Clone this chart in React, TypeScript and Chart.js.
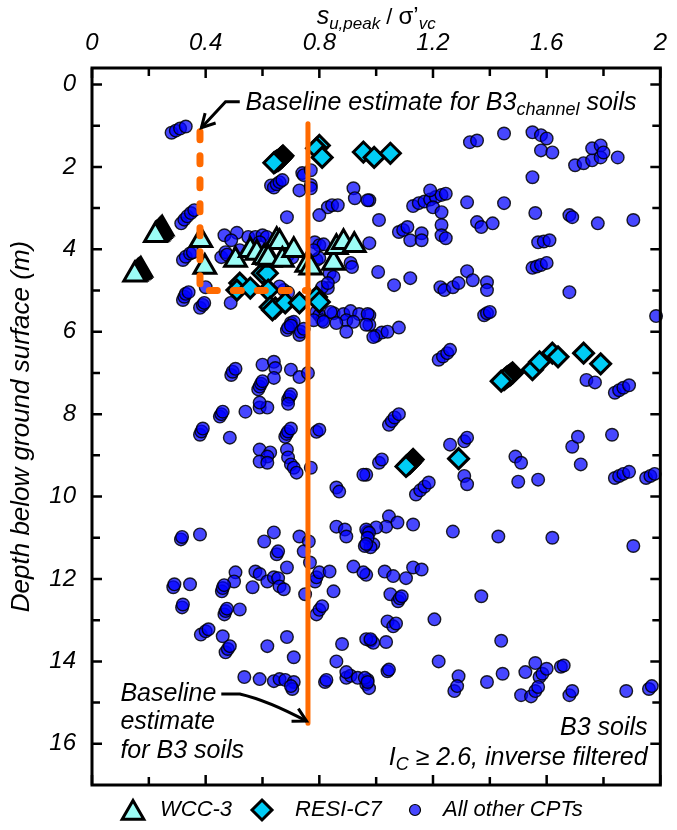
import React, { useEffect, useRef } from 'react';
import { Chart, registerables } from 'chart.js';
Chart.register(...registerables);

const FONT = '"Liberation Sans", Arial, Helvetica, sans-serif';

const xRange = [0, 2];
const yRange = [-0.4, 17];
const xTickValues = [0, 0.4, 0.8, 1.2, 1.6, 2];
const xMinorTickValues = [0.2, 0.6, 1.0, 1.4, 1.8];
const yTickValues = [0, 2, 4, 6, 8, 10, 12, 14, 16];
const yMinorTickValues = [1, 3, 5, 7, 9, 11, 13, 15];

const legendLabels = ['WCC-3', 'RESI-C7', 'All other CPTs'];

// [s_u,peak / sigma'_vc, depth (m)]
const wcc3: [number, number][] = [
  [0.247, 3.5], [0.243, 3.53], [0.239, 3.56], [0.235, 3.59], [0.231, 3.62], [0.227, 3.64], [0.223, 3.66],
  [0.172, 4.5], [0.168, 4.53], [0.164, 4.55], [0.16, 4.57], [0.155, 4.6], [0.15, 4.62],
  [0.383, 3.78], [0.397, 4.43], [0.505, 4.26], [0.557, 4.02], [0.58, 4.09],
  [0.606, 4.19], [0.627, 4.26], [0.65, 3.78], [0.66, 3.83], [0.62, 4.21],
  [0.67, 4.26], [0.71, 4.02], [0.756, 4.38], [0.77, 4.45], [0.85, 4.33],
  [0.86, 3.95], [0.885, 3.83], [0.923, 3.9],
];

const resiC7: [number, number][] = [
  [0.672, 1.73], [0.668, 1.76], [0.664, 1.79], [0.66, 1.82], [0.655, 1.84], [0.65, 1.86],
  [0.645, 1.88], [0.64, 1.9],
  [0.80, 1.48], [0.79, 1.55], [0.81, 1.77],
  [0.955, 1.64], [0.993, 1.77], [1.05, 1.67],
  [0.52, 4.82], [0.51, 4.99], [0.557, 4.94], [0.60, 4.58], [0.617, 4.58],
  [0.62, 4.99], [0.627, 5.4], [0.645, 5.42], [0.635, 5.47], [0.68, 5.3],
  [0.73, 5.3], [0.79, 5.16], [0.80, 5.28],
  [1.48, 7.0], [1.475, 7.03], [1.47, 7.06], [1.465, 7.08], [1.46, 7.1], [1.455, 7.13],
  [1.45, 7.16], [1.44, 7.2], [1.55, 6.92], [1.575, 6.73],
  [1.62, 6.52], [1.64, 6.61], [1.73, 6.52], [1.79, 6.78],
  [1.13, 9.1], [1.125, 9.14], [1.12, 9.18], [1.115, 9.21], [1.11, 9.24], [1.105, 9.27], [1.29, 9.08],
];

const otherCpts: [number, number][] = [
  [0.28, 1.17], [0.295, 1.12], [0.31, 1.07], [0.33, 1.02],
  [1.33, 1.40], [1.355, 1.36], [1.45, 1.19], [1.55, 1.16], [1.58, 1.23], [1.60, 1.31],
  [1.58, 1.60], [1.62, 1.65], [1.55, 2.25],
  [1.70, 1.96], [1.73, 1.91], [1.76, 1.84], [1.76, 1.55], [1.79, 1.48], [1.79, 1.77],
  [1.80, 1.65], [1.85, 1.77],
  [0.976, 2.81], [1.13, 2.95], [1.15, 2.88], [1.17, 2.84], [1.19, 2.79], [1.21, 2.73],
  [1.23, 2.68], [1.245, 2.65], [1.19, 2.57], [1.20, 2.98], [1.23, 3.1], [1.23, 3.41],
  [1.23, 3.66], [1.245, 3.73],
  [1.01, 3.29], [1.08, 3.58], [1.095, 3.53], [1.11, 3.46], [1.12, 3.78], [1.16, 3.61],
  [1.16, 3.78], [0.976, 3.85],
  [1.32, 2.86], [1.355, 3.34], [1.37, 3.46], [1.41, 3.37], [1.45, 2.88], [1.56, 3.12],
  [1.68, 3.17], [1.69, 3.22], [1.78, 3.37], [1.905, 3.29],
  [1.57, 3.83], [1.59, 3.81], [1.61, 3.78],
  [1.55, 4.45], [1.565, 4.42], [1.58, 4.38], [1.60, 4.33],
  [1.007, 4.55], [1.063, 4.87], [1.12, 4.7], [1.226, 4.92], [1.24, 4.99], [1.27, 4.92],
  [1.29, 4.82], [1.32, 4.53], [1.34, 4.75], [1.39, 4.8], [1.39, 4.99], [1.68, 5.04],
  [1.38, 5.6], [1.39, 5.55], [1.40, 5.52], [1.985, 5.62],
  [0.976, 5.6], [0.976, 5.83], [1.0, 6.1], [1.02, 6.02], [1.04, 6.0], [1.08, 5.9],
  [1.22, 6.68], [1.235, 6.6], [1.25, 6.52], [1.26, 6.44],
  [1.74, 7.17], [1.77, 7.23], [1.84, 7.48], [1.855, 7.42], [1.87, 7.36], [1.89, 7.3],
  [1.045, 8.26], [1.055, 8.17], [1.065, 8.08], [1.08, 8.0],
  [1.01, 9.18], [1.02, 9.1],
  [1.26, 8.74], [1.31, 8.66], [1.32, 8.57],
  [1.14, 9.95], [1.155, 9.85], [1.17, 9.76], [1.185, 9.66],
  [1.31, 9.5], [1.32, 9.7], [1.49, 9.03], [1.51, 9.18], [1.50, 9.64], [1.57, 9.59],
  [1.69, 8.79], [1.71, 8.55], [1.72, 9.22], [1.83, 8.5],
  [1.84, 9.55], [1.855, 9.5], [1.87, 9.45], [1.89, 9.4],
  [1.95, 9.55], [1.965, 9.5], [1.98, 9.45], [0.965, 9.47],
  [1.045, 10.48], [1.035, 10.73], [1.075, 10.63], [1.0, 10.75], [0.97, 10.85],
  [1.13, 10.68], [0.99, 11.16], [0.98, 11.23],
  [1.27, 10.85], [1.43, 10.97], [1.62, 11.0], [1.905, 11.2],
  [0.965, 11.9], [1.03, 11.82], [1.06, 11.93], [1.105, 11.98], [1.13, 11.72], [1.16, 11.77],
  [1.05, 12.37], [1.077, 12.54], [1.083, 12.47], [1.09, 12.42], [1.37, 12.42],
  [1.04, 13.03], [1.06, 13.15], [1.07, 13.08], [1.205, 12.98],
  [0.98, 13.5], [0.99, 13.55], [1.035, 13.53], [1.44, 13.5], [1.22, 14.0],
  [1.04, 14.24], [1.045, 14.2],
  [0.965, 14.55], [0.975, 14.65], [0.97, 14.45],
  [1.29, 14.36], [1.275, 14.72], [1.285, 14.6], [1.39, 14.5], [1.445, 14.3],
  [1.525, 14.26], [1.56, 14.04], [1.575, 14.38], [1.585, 14.3], [1.60, 14.18],
  [1.65, 14.13], [1.66, 14.1],
  [1.51, 14.82], [1.545, 14.85], [1.56, 14.72], [1.57, 14.62],
  [1.68, 14.82], [1.69, 14.72], [1.88, 14.72], [1.96, 14.67], [1.97, 14.6],
  [0.314, 3.37], [0.325, 3.28], [0.335, 3.2], [0.348, 3.12], [0.36, 3.05],
  [0.32, 4.26], [0.33, 4.18], [0.345, 4.1], [0.355, 4.07],
  [0.32, 5.23], [0.325, 5.15], [0.33, 5.08], [0.34, 5.04],
  [0.38, 5.42], [0.39, 5.35], [0.395, 5.3], [0.40, 4.92], [0.488, 5.3],
  [0.466, 3.66], [0.51, 3.6], [0.49, 3.78], [0.55, 3.7], [0.575, 3.7], [0.6, 3.66],
  [0.615, 3.7], [0.59, 3.83],
  [0.455, 4.19], [0.47, 4.07], [0.52, 4.02], [0.475, 4.13],
  [0.69, 4.14], [0.705, 4.2],
  [0.836, 4.58], [0.85, 4.67], [0.91, 4.33], [0.915, 4.43],
  [0.784, 3.83], [0.80, 3.9], [0.815, 3.88], [0.79, 4.26], [0.80, 4.21], [0.78, 4.02],
  [0.675, 4.99], [0.69, 5.05], [0.66, 4.9], [0.83, 4.94], [0.81, 4.92], [0.83, 4.82],
  [0.85, 5.55], [0.885, 5.57], [0.91, 5.5], [0.94, 5.57], [0.97, 5.57], [0.79, 5.52],
  [0.80, 5.6], [0.84, 5.52], [0.895, 5.72], [0.92, 5.76], [0.965, 5.83], [0.70, 5.79],
  [0.71, 5.76], [0.81, 5.72],
  [0.686, 5.96], [0.69, 5.9], [0.70, 5.85], [0.73, 6.08], [0.735, 6.0], [0.745, 5.93],
  [0.78, 5.72], [0.815, 5.76], [0.86, 5.79], [0.895, 6.0], [0.99, 6.13],
  [0.63, 2.45], [0.64, 2.5], [0.65, 2.42], [0.66, 2.37], [0.67, 2.32],
  [0.74, 2.15], [0.745, 2.2], [0.77, 2.08], [0.73, 2.57], [0.77, 2.44], [0.77, 2.52],
  [0.92, 2.52], [0.925, 2.76], [0.97, 2.81],
  [0.83, 2.98], [0.845, 2.93], [0.865, 2.93], [0.80, 3.17], [0.686, 3.22],
  [0.49, 7.05], [0.495, 6.97], [0.505, 6.9],
  [0.6, 6.8], [0.64, 6.73], [0.645, 6.88], [0.64, 7.12], [0.70, 6.92], [0.73, 7.1], [0.76, 7.0],
  [0.585, 7.4], [0.59, 7.33], [0.595, 7.26], [0.60, 7.2],
  [0.54, 7.94], [0.59, 7.84], [0.617, 7.84], [0.59, 7.72],
  [0.69, 7.65], [0.695, 7.58], [0.70, 7.52], [0.69, 7.75],
  [0.45, 8.06], [0.455, 8.0], [0.46, 7.94],
  [0.38, 8.5], [0.385, 8.42], [0.39, 8.35], [0.485, 8.57],
  [0.59, 8.86], [0.627, 8.93], [0.617, 9.03], [0.59, 9.15], [0.617, 9.18],
  [0.68, 8.55], [0.685, 8.48], [0.69, 8.42], [0.70, 8.35],
  [0.686, 8.86], [0.69, 9.05], [0.70, 9.22], [0.71, 9.3], [0.72, 9.42], [0.77, 9.3],
  [0.79, 8.43], [0.80, 8.38],
  [0.86, 9.78], [0.87, 9.88], [0.955, 9.47],
  [0.313, 11.04], [0.317, 10.98], [0.38, 10.92],
  [0.606, 11.09], [0.64, 10.87], [0.73, 10.97], [0.763, 11.09],
  [0.86, 10.73], [0.89, 10.8], [0.895, 10.97], [0.965, 10.8], [0.975, 10.88], [0.97, 11.0],
  [0.65, 11.4], [0.655, 11.33], [0.745, 11.33], [0.767, 11.6],
  [0.686, 11.72], [0.575, 11.82], [0.59, 11.88], [0.617, 12.06], [0.64, 11.96],
  [0.655, 11.98], [0.66, 12.18], [0.675, 12.25],
  [0.505, 11.84], [0.50, 12.06],
  [0.457, 12.3], [0.46, 12.22], [0.465, 12.15], [0.565, 12.2],
  [0.75, 12.37], [0.785, 12.06], [0.79, 11.96], [0.80, 11.84], [0.836, 11.82], [0.85, 12.3],
  [0.92, 11.7], [0.955, 11.84], [0.96, 11.2], [0.965, 11.15],
  [0.286, 12.2], [0.29, 12.13], [0.345, 12.13], [0.317, 12.69], [0.32, 12.62],
  [0.52, 12.74], [0.466, 12.86], [0.47, 12.78], [0.475, 12.72],
  [0.79, 12.86], [0.80, 12.75], [0.81, 12.66],
  [0.383, 13.35], [0.40, 13.27], [0.41, 13.22], [0.46, 13.39],
  [0.47, 13.78], [0.478, 13.7], [0.485, 13.63],
  [0.617, 13.63], [0.686, 13.41], [0.71, 13.9],
  [0.86, 14.0], [0.88, 13.58], [0.965, 13.46], [0.98, 13.46],
  [0.536, 14.38], [0.59, 14.43], [0.64, 14.48], [0.66, 14.43], [0.68, 14.45], [0.71, 14.5],
  [0.705, 14.67], [0.70, 14.6],
  [0.82, 14.5], [0.825, 14.45], [0.895, 14.4], [0.91, 14.35], [0.935, 14.4], [0.96, 14.4],
  [0.97, 14.5], [0.895, 14.26],
];

// baseline estimates
const b3Baseline: [number, number][] = [[0.76, 0.95], [0.76, 15.5]];
const b3ChannelBaseline: [number, number][] = [[0.38, 1.15], [0.38, 5.0], [0.76, 5.0]];

// annotation anchors in data units
const channelNoteAnchor: [number, number] = [0.54, 0.62];
const channelArrowPath: [number, number][] = [[0.52, 0.42], [0.47, 0.42], [0.385, 1.05]];
const b3NoteAnchor: [number, number] = [0.1, 14.96];
const b3NoteLines = ['Baseline', 'estimate', 'for B3 soils'];
const b3ArrowPath: [number, number][] = [[0.455, 14.79], [0.52, 14.79], [0.62, 14.95], [0.755, 15.45]];
const cornerNoteAnchor: [number, number] = [1.955, 15.79];

const CIRCLE_FILL = 'rgba(0,0,255,0.72)';
const TRI_FILL = '#9CFCF6';
const DIA_FILL = '#00CCF5';
const ORANGE = '#FF6A00';

const toXY = (arr: [number, number][]) => arr.map(([x, y]) => ({ x, y }));

function drawArrowHead(ctx: CanvasRenderingContext2D, fx: number, fy: number, tx: number, ty: number) {
  const ang = Math.atan2(ty - fy, tx - fx);
  const len = 15;
  const spread = 0.5;
  ctx.beginPath();
  ctx.moveTo(tx - len * Math.cos(ang - spread), ty - len * Math.sin(ang - spread));
  ctx.lineTo(tx, ty);
  ctx.lineTo(tx - len * Math.cos(ang + spread), ty - len * Math.sin(ang + spread));
  ctx.stroke();
}

const overlayPlugin = {
  id: 'overlay',
  afterDraw(chart: any) {
    const ctx: CanvasRenderingContext2D = chart.ctx;
    const { left, right, top, bottom } = chart.chartArea;
    const xs = chart.scales.x;
    const ys = chart.scales.y;
    const px = (v: number) => xs.getPixelForValue(v);
    const py = (v: number) => ys.getPixelForValue(v);
    ctx.save();
    // frame
    ctx.strokeStyle = '#000';
    ctx.lineWidth = 3;
    ctx.strokeRect(left, top, right - left, bottom - top);
    // inward ticks
    ctx.lineWidth = 2.5;
    const tick = (vals: number[], len: number, axis: 'x' | 'y') => {
      vals.forEach((v) => {
        ctx.beginPath();
        if (axis === 'x') {
          const x = px(v);
          ctx.moveTo(x, top); ctx.lineTo(x, top + len);
          ctx.moveTo(x, bottom); ctx.lineTo(x, bottom - len);
        } else {
          const y = py(v);
          ctx.moveTo(left, y); ctx.lineTo(left + len, y);
          ctx.moveTo(right, y); ctx.lineTo(right - len, y);
        }
        ctx.stroke();
      });
    };
    tick(xTickValues, 10, 'x');
    tick(xMinorTickValues, 8, 'x');
    tick(yTickValues, 10, 'y');
    tick(yMinorTickValues, 8, 'y');

    ctx.fillStyle = '#000';
    // x axis title: s_u,peak / σ'_vc
    const cx = (left + right) / 2;
    const base = 24;
    const parts: [string, string, number][] = [
      ['s', 'italic 25px ' + FONT, 0],
      ['u,peak', 'italic 17px ' + FONT, 5],
      [' / ', '22px ' + FONT, 0],
      ['\u03C3\u2019', '24px ' + FONT, 0],
      ['vc', 'italic 17px ' + FONT, 5],
    ];
    let total = 0;
    parts.forEach(([t, f]) => { ctx.font = f; total += ctx.measureText(t).width; });
    let cur = cx - total / 2;
    ctx.textBaseline = 'alphabetic';
    ctx.textAlign = 'left';
    parts.forEach(([t, f, dy]) => { ctx.font = f; ctx.fillText(t, cur, base + dy); cur += ctx.measureText(t).width; });

    // y axis title
    ctx.save();
    ctx.translate(22, (top + bottom) / 2);
    ctx.rotate(-Math.PI / 2);
    ctx.font = 'italic 26px ' + FONT;
    ctx.textAlign = 'center';
    ctx.textBaseline = 'middle';
    ctx.fillText('Depth below ground surface (m)', 0, 0);
    ctx.restore();

    // channel note
    ctx.textAlign = 'left';
    ctx.textBaseline = 'alphabetic';
    let nx = px(channelNoteAnchor[0]);
    const ny = py(channelNoteAnchor[1]);
    const notes: [string, string, number][] = [
      ['Baseline estimate for B3', 'italic 25px ' + FONT, 0],
      ['channel', 'italic 18px ' + FONT, 5],
      [' soils', 'italic 25px ' + FONT, 0],
    ];
    notes.forEach(([t, f, dy]) => { ctx.font = f; ctx.fillText(t, nx, ny + dy); nx += ctx.measureText(t).width; });

    // B3 note
    ctx.font = 'italic 25px ' + FONT;
    const bx = px(b3NoteAnchor[0]);
    const by = py(b3NoteAnchor[1]);
    b3NoteLines.forEach((l, i) => ctx.fillText(l, bx, by + i * 28.5));

    // corner note
    ctx.textAlign = 'right';
    const rx = px(cornerNoteAnchor[0]);
    const ry = py(cornerNoteAnchor[1]);
    ctx.fillText('B3 soils', rx, ry);
    const tail = ' \u2265 2.6, inverse filtered';
    ctx.font = 'italic 25px ' + FONT;
    const tailW = ctx.measureText(tail).width;
    ctx.fillText(tail, rx, ry + 30);
    ctx.font = 'italic 18px ' + FONT;
    const cW = ctx.measureText('C').width;
    ctx.fillText('C', rx - tailW, ry + 35);
    ctx.font = 'italic 25px ' + FONT;
    ctx.fillText('I', rx - tailW - cW, ry + 30);

    // arrows
    ctx.strokeStyle = '#000';
    ctx.lineWidth = 3;
    ctx.lineCap = 'butt';
    ctx.lineJoin = 'miter';
    const a1 = channelArrowPath.map(([x, y]) => [px(x), py(y)]);
    ctx.beginPath();
    ctx.moveTo(a1[0][0], a1[0][1]);
    for (let i = 1; i < a1.length; i++) ctx.lineTo(a1[i][0], a1[i][1]);
    ctx.stroke();
    drawArrowHead(ctx, a1[1][0], a1[1][1], a1[2][0], a1[2][1]);

    const a2 = b3ArrowPath.map(([x, y]) => [px(x), py(y)]);
    ctx.beginPath();
    ctx.moveTo(a2[0][0], a2[0][1]);
    ctx.lineTo(a2[1][0], a2[1][1]);
    ctx.quadraticCurveTo(a2[2][0], a2[2][1], a2[3][0], a2[3][1]);
    ctx.stroke();
    drawArrowHead(ctx, a2[2][0], a2[2][1], a2[3][0], a2[3][1]);

    // legend
    const ly = 810;
    ctx.textAlign = 'left';
    ctx.textBaseline = 'middle';
    ctx.font = 'italic 22px ' + FONT;
    // triangle
    let r = 12.5;
    let mx = 133;
    let my = ly + 3;
    ctx.beginPath();
    ctx.moveTo(mx, my - r);
    ctx.lineTo(mx + 0.866 * r, my + 0.5 * r);
    ctx.lineTo(mx - 0.866 * r, my + 0.5 * r);
    ctx.closePath();
    ctx.fillStyle = TRI_FILL; ctx.fill();
    ctx.lineWidth = 3; ctx.strokeStyle = '#000'; ctx.stroke();
    ctx.fillStyle = '#000';
    ctx.fillText(legendLabels[0], 160, ly);
    // diamond
    mx = 262; r = 10;
    ctx.beginPath();
    ctx.moveTo(mx, ly - r); ctx.lineTo(mx + r, ly); ctx.lineTo(mx, ly + r); ctx.lineTo(mx - r, ly);
    ctx.closePath();
    ctx.fillStyle = DIA_FILL; ctx.fill(); ctx.stroke();
    ctx.fillStyle = '#000';
    ctx.fillText(legendLabels[1], 295, ly);
    // circle
    mx = 415;
    ctx.beginPath();
    ctx.arc(mx, ly, 5.5, 0, Math.PI * 2);
    ctx.fillStyle = CIRCLE_FILL; ctx.fill();
    ctx.lineWidth = 1.2; ctx.stroke();
    ctx.fillStyle = '#000';
    ctx.fillText(legendLabels[2], 443, ly);
    ctx.restore();
  },
};

export default function App() {
  const ref = useRef<HTMLCanvasElement | null>(null);
  useEffect(() => {
    document.body.style.margin = '0';
    const canvas = ref.current;
    if (!canvas) return;
    const tickFont = { family: FONT, size: 24, style: 'italic' as const };
    const chart = new Chart(canvas, {
      type: 'scatter',
      data: {
        datasets: [
          {
            label: 'B3 channel baseline',
            data: toXY(b3ChannelBaseline),
            showLine: true,
            borderColor: ORANGE,
            borderWidth: 7,
            borderDash: [8, 16],
            borderCapStyle: 'round',
            borderJoinStyle: 'round',
            pointRadius: 0,
            order: 0,
            clip: false,
          } as any,
          {
            label: 'B3 baseline',
            data: toXY(b3Baseline),
            showLine: true,
            borderColor: ORANGE,
            borderWidth: 5,
            borderCapStyle: 'round',
            pointRadius: 0,
            order: 1,
            clip: false,
          } as any,
          {
            label: legendLabels[0],
            data: toXY(wcc3),
            pointStyle: 'triangle',
            pointRadius: 12.5,
            backgroundColor: TRI_FILL,
            borderColor: '#000',
            borderWidth: 3,
            order: 2,
            clip: false,
          } as any,
          {
            label: legendLabels[1],
            data: toXY(resiC7),
            pointStyle: 'rectRot',
            pointRadius: 10,
            backgroundColor: DIA_FILL,
            borderColor: '#000',
            borderWidth: 3,
            order: 3,
            clip: false,
          } as any,
          {
            label: legendLabels[2],
            data: toXY(otherCpts),
            pointStyle: 'circle',
            pointRadius: 6.3,
            backgroundColor: CIRCLE_FILL,
            borderColor: 'rgba(0,0,0,0.85)',
            borderWidth: 1.4,
            order: 4,
            clip: false,
          } as any,
        ],
      },
      options: {
        animation: false,
        responsive: false,
        devicePixelRatio: 1,
        events: [],
        layout: { padding: { left: 0, right: 9, top: 0, bottom: 45 } },
        plugins: { legend: { display: false }, tooltip: { enabled: false }, title: { display: false } },
        scales: {
          x: {
            type: 'linear',
            position: 'top',
            min: xRange[0],
            max: xRange[1],
            afterBuildTicks: (s: any) => { s.ticks = xTickValues.map((v) => ({ value: v })); },
            afterFit: (s: any) => { s.height = 68; },
            ticks: { font: tickFont, color: '#000', padding: 10, maxRotation: 0, autoSkip: false, callback: (v: any) => String(v) },
            grid: { display: false, drawTicks: false },
            border: { display: false },
          },
          y: {
            type: 'linear',
            reverse: true,
            min: yRange[0],
            max: yRange[1],
            afterBuildTicks: (s: any) => { s.ticks = yTickValues.map((v) => ({ value: v })); },
            afterFit: (s: any) => { s.width = 92; },
            ticks: { font: tickFont, color: '#000', padding: 16, autoSkip: false, callback: (v: any) => String(v) },
            grid: { display: false, drawTicks: false },
            border: { display: false },
          },
        },
      } as any,
      plugins: [overlayPlugin],
    });
    return () => chart.destroy();
  }, []);
  return (
    <div style={{ position: 'absolute', left: 0, top: 0, width: 677, height: 830, background: '#fff' }}>
      <canvas ref={ref} width={677} height={830} style={{ width: 677, height: 830, display: 'block' }} />
    </div>
  );
}
